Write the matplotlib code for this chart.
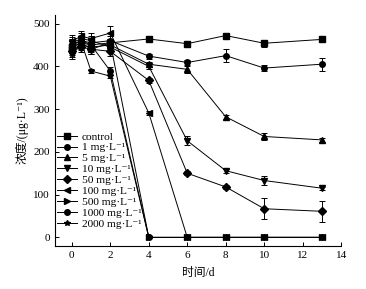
import matplotlib
matplotlib.use("Agg")
import matplotlib.pyplot as plt

days = [0, 0.5, 1, 2, 4, 6, 8, 10, 13]
labels = ["control", "1 mg·L⁻¹", "5 mg·L⁻¹", "10 mg·L⁻¹", "50 mg·L⁻¹",
          "100 mg·L⁻¹", "500 mg·L⁻¹", "1000 mg·L⁻¹", "2000 mg·L⁻¹"]
markers = ["s", "o", "^", "v", "D", "<", ">", "o", "*"]

control = [445, 455, 450, 455, 464, 453, 472, 454, 463]
c1 = [450, 460, 455, 460, 424, 409, 425, 396, 405]
c5 = [440, 450, 445, 450, 405, 393, 282, 236, 228]
c10 = [455, 465, 460, 445, 400, 226, 156, 133, 115]
c50 = [435, 445, 440, 435, 367, 150, 118, 67, 61]
c100 = [460, 470, 465, 478, 291, 0, 0, 0, 0]
c500 = [445, 455, 440, 455, 0, 0, 0, 0, 0]
c1000 = [450, 460, 450, 389, 0, 0, 0, 0, 0]
c2000 = [430, 455, 389, 377, 0, 0, 0, 0, 0]

e_control = [14, 12, 12, 10, 4, 7, 3, 8, 4]
e1 = [14, 12, 12, 10, 6, 6, 15, 8, 15]
e5 = [14, 12, 12, 10, 6, 8, 5, 8, 4]
e10 = [14, 12, 12, 10, 6, 10, 5, 10, 4]
e50 = [14, 12, 12, 10, 5, 5, 5, 25, 25]
e100 = [14, 12, 12, 17, 5, 0, 0, 0, 0]
e500 = [14, 12, 12, 10, 0, 0, 0, 0, 0]
e1000 = [14, 12, 12, 10, 0, 0, 0, 0, 0]
e2000 = [14, 12, 5, 5, 0, 0, 0, 0, 0]

series = [control, c1, c5, c10, c50, c100, c500, c1000, c2000]
errors = [e_control, e1, e5, e10, e50, e100, e500, e1000, e2000]

fam = ['Liberation Serif', 'DejaVu Serif', 'Noto Sans CJK SC']
plt.rcParams['font.family'] = fam

fig = plt.figure(figsize=(3.66, 2.89), dpi=100)
ax = fig.add_axes([0.149, 0.149, 0.783, 0.799])

handles = []
for vals, err, m, lab in zip(series, errors, markers, labels):
    cont = ax.errorbar(days, vals, yerr=err, marker=m, color='black', markersize=4,
                       linewidth=0.7, elinewidth=0.7, capsize=2, capthick=0.7, label=lab)
    handles.append(cont[0])

ax.set_xlim(-0.9, 14)
ax.set_ylim(-20, 520)
ax.set_xticks(range(0, 15, 2))
ax.set_yticks(range(0, 501, 100))
ax.tick_params(direction='in', labelsize=8, length=3, width=0.7)
for s in ['top', 'right']:
    ax.spines[s].set_visible(False)
for s in ['left', 'bottom']:
    ax.spines[s].set_linewidth(0.8)

ax.set_xlabel("时间/d", fontsize=8.5, family=fam, labelpad=5)
ax.set_ylabel("浓度/(μg·L⁻¹)", fontsize=8.5, family=fam, labelpad=3)

leg = ax.legend(handles, labels, loc='upper left', bbox_to_anchor=(0.01, 0.495), frameon=False,
                fontsize=8.2, labelspacing=0.08, handlelength=1.75, handletextpad=0.4,
                borderpad=0.0, borderaxespad=0.0)

fig.savefig("out.png", dpi=100)
